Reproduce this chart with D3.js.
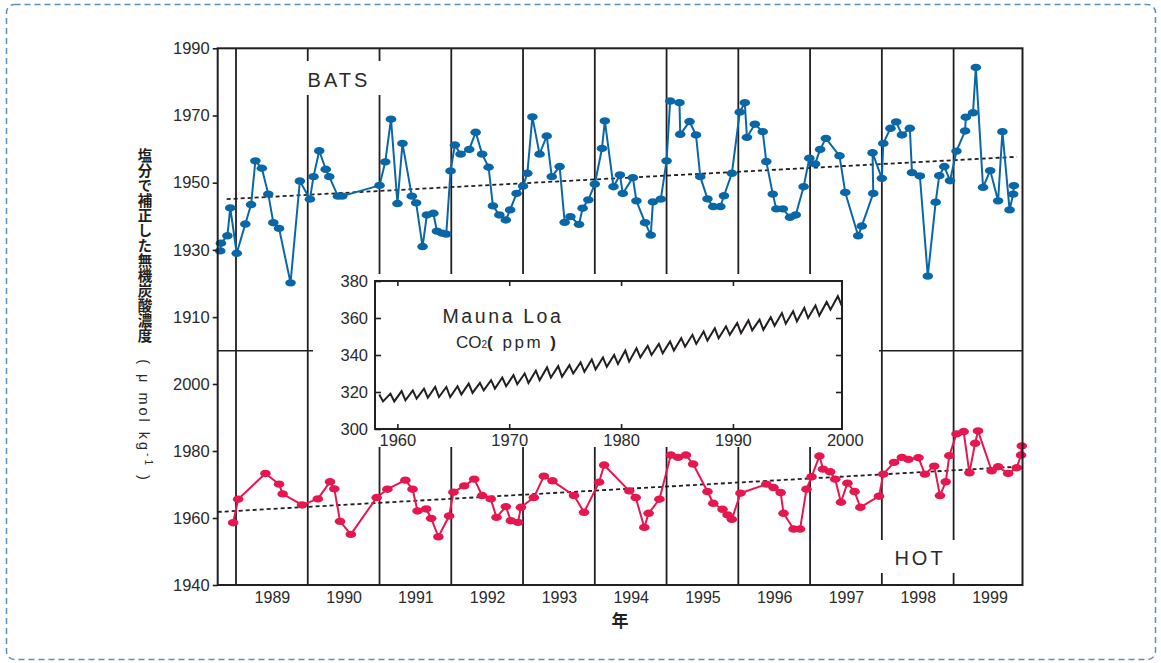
<!DOCTYPE html>
<html>
<head>
<meta charset="utf-8">
<script src="https://cdn.jsdelivr.net/npm/d3@7/dist/d3.min.js"></script>
<style>
  body { margin: 0; background: #fff; }
  svg { display: block; font-family: "Liberation Sans", Arial, sans-serif; }
</style>
</head>
<body>
<svg id="chart" width="1161" height="663"></svg>
<script>
// BATS (top panel) - decimal year / umol kg-1
var batsT = [1988.78,1988.79,1988.88,1988.92,1989.01,1989.13,1989.21,1989.27,1989.36,1989.45,1989.52,1989.60,1989.76,1989.89,
  1990.03,1990.08,1990.16,1990.25,1990.30,1990.42,1990.48,1991.00,1991.08,1991.16,1991.25,1991.32,1991.45,1991.51,1991.60,
  1991.66,1991.75,1991.80,1991.87,1991.93,1991.99,1992.05,1992.13,1992.25,1992.34,1992.43,1992.52,1992.58,1992.67,1992.76,
  1992.82,1992.91,1993.00,1993.06,1993.13,1993.23,1993.33,1993.40,1993.51,1993.58,1993.66,1993.78,1993.83,1993.91,1994.00,
  1994.10,1994.14,1994.26,1994.35,1994.39,1994.53,1994.58,1994.70,1994.78,1994.81,1994.92,1995.00,1995.05,1995.18,1995.19,
  1995.32,1995.41,1995.47,1995.57,1995.65,1995.75,1995.80,1995.91,1996.02,1996.09,1996.12,1996.23,1996.34,1996.39,1996.48,
  1996.53,1996.62,1996.72,1996.80,1996.91,1996.99,1997.07,1997.14,1997.22,1997.41,1997.49,1997.67,1997.72,1997.88,1997.87,
  1998.00,1998.02,1998.12,1998.20,1998.28,1998.39,1998.42,1998.53,1998.64,1998.75,1998.80,1998.87,1998.95,1999.04,1999.16,
  1999.17,1999.27,1999.31,1999.41,1999.51,1999.62,1999.68,1999.78,1999.83,1999.84];
var batsV = [1929.7,1932.0,1934.2,1942.5,1929.0,1937.7,1943.5,1956.5,1954.3,1946.6,1938.1,1936.4,1920.2,1950.5,
  1945.1,1951.8,1959.5,1954.0,1951.8,1946.0,1946.0,1949.2,1956.2,1968.9,1943.8,1961.7,1946.0,1944.0,1931.0,
  1940.4,1940.9,1935.6,1935.0,1934.7,1953.5,1961.2,1958.5,1959.9,1965.0,1958.5,1954.6,1943.1,1940.4,1938.9,
  1941.9,1946.8,1949.0,1952.8,1969.6,1958.5,1963.9,1951.8,1954.8,1938.2,1939.9,1937.6,1942.4,1944.9,1949.6,
  1960.2,1968.4,1948.8,1952.3,1946.8,1951.5,1944.6,1938.1,1934.4,1944.3,1945.1,1956.5,1974.3,1973.8,1964.4,
  1968.2,1964.2,1951.8,1945.2,1942.9,1942.9,1946.1,1952.8,1971.0,1973.8,1963.5,1967.4,1965.2,1956.3,1946.6,
  1942.2,1942.2,1939.7,1940.4,1948.8,1957.3,1955.6,1959.9,1963.2,1958.0,1947.1,1934.2,1937.1,1946.8,1958.9,
  1951.3,1961.7,1966.2,1968.1,1964.2,1966.2,1953.0,1952.0,1922.2,1944.2,1952.1,1954.8,1950.6,1959.4,1965.4,
  1969.5,1970.8,1984.3,1948.6,1953.6,1944.6,1965.2,1941.9,1946.6,1949.1];

// HOT (bottom panel)
var hotT = [1988.96,1989.03,1989.41,1989.60,1989.65,1989.92,1990.14,1990.31,1990.37,1990.45,1990.60,1990.96,1991.11,
  1991.36,1991.46,1991.53,1991.65,1991.72,1991.82,1991.97,1992.03,1992.18,1992.32,1992.43,1992.55,1992.63,1992.76,
  1992.83,1992.93,1992.97,1993.15,1993.29,1993.41,1993.71,1993.85,1994.06,1994.13,1994.48,1994.57,1994.69,1994.75,
  1994.90,1995.06,1995.16,1995.27,1995.37,1995.57,1995.65,1995.78,1995.85,1995.91,1996.03,1996.39,1996.49,1996.59,
  1996.63,1996.77,1996.86,1996.95,1997.02,1997.13,1997.18,1997.28,1997.35,1997.43,1997.52,1997.62,1997.70,1997.96,
  1998.02,1998.17,1998.28,1998.37,1998.51,1998.60,1998.73,1998.81,1998.89,1998.94,1999.04,1999.14,1999.22,1999.30,
  1999.34,1999.53,1999.62,1999.76,1999.88,1999.94,1999.95];
var hotV = [1958.6,1965.6,1973.3,1970.1,1967.2,1963.9,1965.7,1970.8,1968.7,1959.0,1955.1,1966.1,1968.6,
  1971.3,1968.6,1962.1,1962.7,1959.9,1954.4,1960.6,1967.7,1969.6,1971.6,1966.7,1965.7,1960.2,1963.4,
  1959.2,1958.7,1963.2,1966.1,1972.5,1971.1,1966.7,1961.7,1970.7,1975.8,1968.1,1966.1,1957.2,1961.4,
  1965.6,1978.8,1978.1,1978.8,1976.1,1967.9,1964.4,1962.6,1960.9,1959.6,1967.4,1970.1,1969.1,1967.6,
  1961.4,1956.7,1956.7,1968.6,1972.3,1978.5,1974.6,1973.8,1971.6,1964.7,1970.4,1967.9,1963.2,1966.5,
  1973.1,1976.6,1978.1,1977.5,1978.0,1973.1,1975.5,1966.7,1970.8,1978.6,1985.1,1985.8,1973.5,1982.3,
  1986.0,1974.1,1975.3,1973.3,1975.0,1978.8,1981.5];

// trend lines (end points)
var batsTrendT = [1988.87, 1999.88], batsTrendV = [1945.1, 1957.7];
var hotTrendT = [1988.745, 1999.88], hotTrendV = [1961.8, 1975.3];

// Mauna Loa CO2 (ppm): yearly high and low of the seasonal cycle
var co2Year = d3.range(1958, 2000);
var co2High = [318.6,319.1,320.5,320.9,321.8,322.7,322.7,323.1,324.5,324.9,326.4,327.8,329.1,330.0,331.5,333.3,334.0,
  334.5,336.0,337.6,338.7,340.0,342.4,343.6,344.9,346.0,347.3,349.1,350.9,352.7,354.5,355.5,357.3,358.7,359.1,360.4,
  362.7,363.6,365.5,366.7,368.7,371.8];
var co2Low = [314.9,314.9,315.5,316.4,316.9,317.3,317.3,318.7,319.5,320.9,321.8,323.1,324.2,324.9,326.4,327.8,328.2,
  330.0,330.9,332.2,333.6,335.1,336.4,338.7,340.0,340.9,342.4,344.5,346.0,347.8,349.1,350.9,351.8,353.3,353.6,355.8,
  356.9,358.2,360.0,361.3,364.5,366.7];

// tick labels
var years = d3.range(1989, 2000);
var topTicks = [1910, 1930, 1950, 1970, 1990];
var bottomTicks = [1940, 1960, 1980, 2000];
var insetYTicks = [300, 320, 340, 360, 380];
var insetXTicks = [1960, 1970, 1980, 1990, 2000];
var yLabelJa = "塩分で補正した無機炭酸濃度";

var ink = "#231f20", blue = "#0a67a7", pink = "#e6174f";

var svg = d3.select("#chart");

// dashed outer frame
svg.append("rect")
    .attr("x", 6.5).attr("y", 4.5)
    .attr("width", 1149).attr("height", 655)
    .attr("rx", 8)
    .attr("fill", "none")
    .attr("stroke", "#5a8fc0")
    .attr("stroke-width", 1.5)
    .attr("stroke-dasharray", "6,4");

// set the ranges
var x = d3.scaleLinear().domain([1988.745, 1999.96]).range([217.7, 1022.5]);
var yTop = d3.scaleLinear().domain([1900, 1990]).range([350.7, 48.3]);
var yBot = d3.scaleLinear().domain([1940, 2010]).range([585, 350.5]);
var top0 = 48.3, bot0 = 585;

// year separator lines
svg.append("g").selectAll("line")
    .data(years)
    .join("line")
    .attr("x1", function(d) { return x(d); })
    .attr("x2", function(d) { return x(d); })
    .attr("y1", top0).attr("y2", bot0)
    .attr("stroke", ink)
    .attr("stroke-width", 1.8);

// white knockouts: inset area, BATS and HOT labels
svg.append("rect").attr("x", 369).attr("y", 274).attr("width", 482).attr("height", 173).attr("fill", "#fff");
svg.append("rect").attr("x", 300).attr("y", 61).attr("width", 86).attr("height", 34).attr("fill", "#fff");
svg.append("rect").attr("x", 875).attr("y", 540).attr("width", 86).attr("height", 33).attr("fill", "#fff");

// panel divider
svg.append("line").attr("x1", x.range()[0]).attr("x2", 313).attr("y1", 350.7).attr("y2", 350.7)
    .attr("stroke", ink).attr("stroke-width", 1.6);
svg.append("line").attr("x1", 879).attr("x2", x.range()[1]).attr("y1", 350.7).attr("y2", 350.7)
    .attr("stroke", ink).attr("stroke-width", 1.6);

// trend lines
function trend(ts, vs, y) {
    svg.append("path")
        .datum(d3.zip(ts, vs))
        .attr("fill", "none")
        .attr("stroke", ink)
        .attr("stroke-width", 1.8)
        .attr("stroke-dasharray", "4,3")
        .attr("d", d3.line().x(function(d) { return x(d[0]); }).y(function(d) { return y(d[1]); }));
}
trend(batsTrendT, batsTrendV, yTop);
trend(hotTrendT, hotTrendV, yBot);

// data series
function series(ts, vs, y, color) {
    var pts = d3.zip(ts, vs);
    svg.append("path")
        .datum(pts)
        .attr("fill", "none")
        .attr("stroke", color)
        .attr("stroke-width", 2)
        .attr("stroke-linejoin", "round")
        .attr("d", d3.line().x(function(d) { return x(d[0]); }).y(function(d) { return y(d[1]); }));
    svg.append("g").selectAll("ellipse")
        .data(pts)
        .join("ellipse")
        .attr("cx", function(d) { return x(d[0]); })
        .attr("cy", function(d) { return y(d[1]); })
        .attr("rx", 5.3).attr("ry", 3.7)
        .attr("fill", color);
}
series(batsT, batsV, yTop, blue);
series(hotT, hotV, yBot, pink);

// plot frame
svg.append("rect")
    .attr("x", x.range()[0]).attr("y", top0)
    .attr("width", x.range()[1] - x.range()[0]).attr("height", bot0 - top0)
    .attr("fill", "none")
    .attr("stroke", ink)
    .attr("stroke-width", 2);

// y axes
function styleAxis(g, size) {
    g.select(".domain").remove();
    g.selectAll("line").attr("stroke", ink).attr("stroke-width", 1.6);
    g.selectAll("text").attr("fill", "#2a2a2a").style("font-size", size + "px")
        .style("font-family", "'Liberation Sans', Arial, sans-serif");
}
svg.append("g")
    .attr("transform", "translate(" + x.range()[0] + ",0)")
    .call(d3.axisLeft(yTop).tickValues(topTicks).tickSize(5).tickPadding(3).tickFormat(d3.format("d")))
    .call(styleAxis, 16.5);
svg.append("g")
    .attr("transform", "translate(" + x.range()[0] + ",0)")
    .call(d3.axisLeft(yBot).tickValues(bottomTicks).tickSize(5).tickPadding(3).tickFormat(d3.format("d")))
    .call(styleAxis, 16.5);

// year labels
svg.append("g")
    .attr("transform", "translate(0," + bot0 + ")")
    .call(d3.axisBottom(x).tickValues(years.map(function(d) { return d + 0.5; }))
        .tickSize(0).tickPadding(7).tickFormat(function(d) { return Math.floor(d); }))
    .call(styleAxis, 16);

// Mauna Loa inset
var xIn = d3.scaleLinear().domain([1958, 1999.75]).range([375, 842]);
var yIn = d3.scaleLinear().domain([300, 380]).range([429, 281]);

var co2 = [];
co2Year.forEach(function(yr, i) {
    co2.push([yr + 0.38, co2High[i]]);
    co2.push([yr + 0.72, co2Low[i]]);
});

svg.append("rect")
    .attr("x", xIn.range()[0]).attr("y", yIn.range()[1])
    .attr("width", xIn.range()[1] - xIn.range()[0]).attr("height", yIn.range()[0] - yIn.range()[1])
    .attr("fill", "#fff")
    .attr("stroke", ink)
    .attr("stroke-width", 2);

svg.append("path")
    .datum(co2)
    .attr("fill", "none")
    .attr("stroke", ink)
    .attr("stroke-width", 2)
    .attr("stroke-linejoin", "miter")
    .attr("d", d3.line().x(function(d) { return xIn(d[0]); }).y(function(d) { return yIn(d[1]); }));

svg.append("g")
    .attr("transform", "translate(" + xIn.range()[0] + ",0)")
    .call(d3.axisLeft(yIn).tickValues(insetYTicks).tickSizeInner(-6).tickSizeOuter(0).tickPadding(7))
    .call(styleAxis, 16.5);
svg.append("g")
    .attr("transform", "translate(" + xIn.range()[1] + ",0)")
    .call(d3.axisRight(yIn).tickValues(insetYTicks.slice(1, 4)).tickSizeInner(-6).tickSizeOuter(0).tickFormat(""))
    .call(styleAxis, 16.5);
svg.append("g")
    .attr("transform", "translate(0," + yIn.range()[0] + ")")
    .call(d3.axisBottom(xIn).tickValues(insetXTicks).tickSizeInner(-5).tickSizeOuter(0).tickPadding(5).tickFormat(d3.format("d")))
    .call(styleAxis, 16.5)
    .selectAll(".tick line").filter(function(d) { return d > xIn.domain()[1]; }).remove();
svg.append("g")
    .attr("transform", "translate(0," + yIn.range()[1] + ")")
    .call(d3.axisTop(xIn).tickValues(insetXTicks.slice(0, 4)).tickSizeInner(-5).tickSizeOuter(0).tickFormat(""))
    .call(styleAxis, 16.5);

svg.append("text")
    .attr("x", 503).attr("y", 323)
    .attr("text-anchor", "middle")
    .attr("fill", "#2a2a2a")
    .style("font-size", "19.5px")
    .style("letter-spacing", "2.6px")
    .text("Mauna Loa");
var co2Label = svg.append("text")
    .attr("x", 506).attr("y", 348)
    .attr("text-anchor", "middle")
    .attr("fill", "#2a2a2a")
    .style("font-size", "17px");
co2Label.append("tspan").text("CO");
co2Label.append("tspan").style("font-size", "10px").text("2");
co2Label.append("tspan").style("letter-spacing", "2.5px").style("font-weight", "bold").text("(");
co2Label.append("tspan").style("letter-spacing", "2.5px").text(" ppm ");
co2Label.append("tspan").style("font-weight", "bold").text(")");

// station labels
svg.append("text")
    .attr("x", 339).attr("y", 87)
    .attr("text-anchor", "middle")
    .attr("fill", "#2a2a2a")
    .style("font-size", "20px")
    .style("letter-spacing", "3px")
    .text("BATS");
svg.append("text")
    .attr("x", 920).attr("y", 565)
    .attr("text-anchor", "middle")
    .attr("fill", "#2a2a2a")
    .style("font-size", "20px")
    .style("letter-spacing", "3px")
    .text("HOT");

// y axis title, Japanese part written vertically
svg.append("text")
    .attr("x", 145).attr("y", 148)
    .style("writing-mode", "vertical-rl")
    .style("text-orientation", "upright")
    .attr("fill", ink)
    .style("font-family", "'Noto Sans CJK JP', sans-serif")
    .style("font-weight", "bold")
    .style("font-size", "14.5px")
    .style("letter-spacing", "0.5px")
    .text(yLabelJa);

var unit = svg.append("text")
    .attr("transform", "translate(139,421) rotate(90)")
    .attr("text-anchor", "middle")
    .attr("fill", "#2a2a2a")
    .style("font-size", "14.5px")
    .style("letter-spacing", "3px");
unit.append("tspan").text("( μ mol kg");
unit.append("tspan").attr("dy", -6).style("font-size", "10px").text("-1");
unit.append("tspan").attr("dy", 6).text(" )");

// x axis title
svg.append("text")
    .attr("x", 620).attr("y", 627)
    .attr("text-anchor", "middle")
    .attr("fill", ink)
    .style("font-family", "'Noto Sans CJK JP', sans-serif")
    .style("font-weight", "bold")
    .style("font-size", "17px")
    .text("年");
</script>
</body>
</html>
